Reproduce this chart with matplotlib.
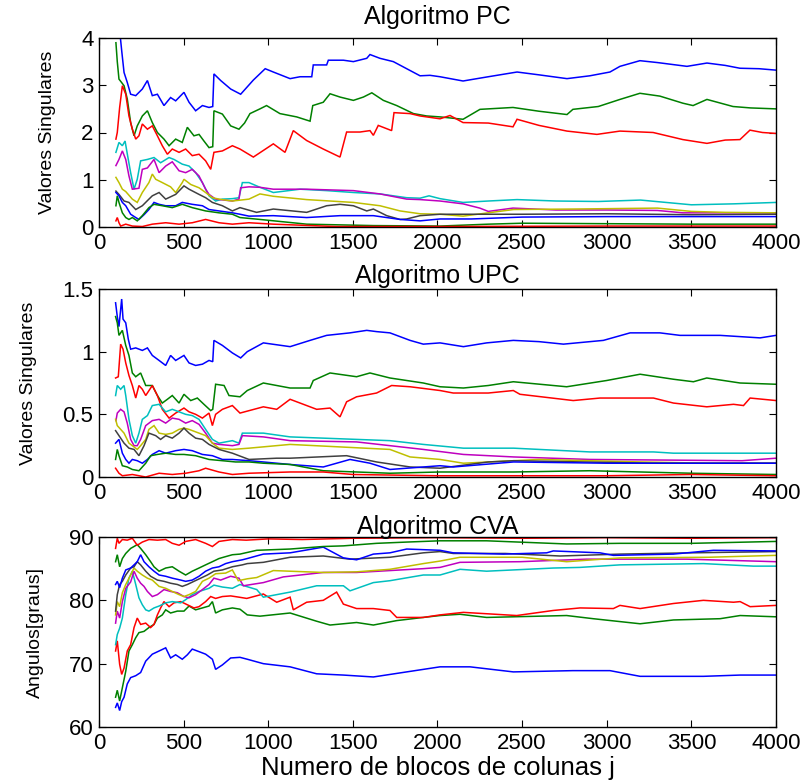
import matplotlib
matplotlib.use("Agg")
import matplotlib.pyplot as plt

# ---------------- data (j, value) ----------------
PC_BLUE1 = [(100,4.2),(118,4.3),(135,3.7),(148,3.27),(167,3.06),(187,2.81),(217,2.78),(256,2.92),(286,3.10),(315,2.78),(345,2.81),(384,2.57),(423,2.74),(453,2.67),(502,2.85),(532,2.64),(571,2.46),(611,2.57),(650,2.53),(672,2.55),(679,3.24),(719,3.10),(778,2.92),(837,2.81),(912,3.11),(982,3.35),(1030,3.28),(1129,3.14),(1188,3.18),(1257,3.18),(1266,3.43),(1345,3.43),(1355,3.53),(1444,3.53),(1503,3.50),(1582,3.57),(1601,3.65),(1660,3.57),(1739,3.50),(1818,3.35),(1897,3.20),(1956,3.21),(2015,3.18),(2151,3.09),(2250,3.15),(2300,3.18),(2470,3.28),(2600,3.22),(2765,3.14),(2900,3.20),(3019,3.28),(3078,3.40),(3196,3.52),(3300,3.48),(3474,3.40),(3592,3.47),(3700,3.42),(3787,3.36),(3900,3.35),(4000,3.32)]
PC_GREEN1 = [(100,3.9),(108,3.5),(118,3.13),(148,2.99),(167,2.71),(187,2.21),(207,1.93),(226,2.14),(256,2.35),(286,2.46),(315,2.21),(345,2.0),(384,1.86),(414,1.72),(453,1.86),(492,1.79),(522,2.11),(561,1.93),(591,1.96),(620,1.82),(650,1.68),(672,1.70),(679,2.46),(729,2.39),(778,2.14),(827,2.07),(860,2.20),(892,2.40),(951,2.50),(990,2.57),(1069,2.40),(1168,2.33),(1247,2.24),(1263,2.57),(1325,2.64),(1365,2.82),(1424,2.75),(1503,2.68),(1562,2.75),(1612,2.84),(1680,2.68),(1759,2.57),(1858,2.40),(1936,2.35),(2015,2.33),(2151,2.28),(2251,2.49),(2446,2.53),(2600,2.45),(2765,2.38),(2800,2.49),(2950,2.55),(3078,2.70),(3196,2.83),(3314,2.77),(3450,2.62),(3510,2.57),(3592,2.70),(3746,2.55),(3850,2.52),(4000,2.50)]
PC_RED1 = [(100,1.86),(108,2.0),(122,2.53),(138,2.99),(158,2.81),(177,2.35),(197,2.07),(217,1.86),(236,1.93),(256,2.18),(286,2.07),(315,2.14),(345,1.93),(374,1.72),(404,1.54),(433,1.65),(473,1.58),(512,1.65),(551,1.51),(591,1.54),(630,1.40),(660,1.22),(679,1.58),(729,1.61),(788,1.72),(833,1.65),(912,1.48),(971,1.62),(1030,1.76),(1099,1.58),(1148,2.04),(1227,1.83),(1325,1.65),(1424,1.48),(1463,2.01),(1542,2.01),(1601,2.04),(1621,1.94),(1650,2.15),(1729,2.04),(1743,2.42),(1838,2.40),(1897,2.35),(2015,2.29),(2074,2.36),(2151,2.21),(2300,2.20),(2446,2.12),(2470,2.28),(2600,2.15),(2765,2.03),(2942,1.96),(3078,2.03),(3274,2.00),(3450,1.85),(3592,1.77),(3700,1.84),(3787,1.85),(3846,2.05),(3920,2.00),(4000,1.98)]
PC_CYAN = [(100,1.58),(118,1.79),(138,1.72),(154,1.82),(167,1.55),(187,1.15),(207,0.80),(226,1.01),(246,1.40),(286,1.43),(325,1.47),(364,1.36),(414,1.47),(443,1.43),(492,1.33),(532,1.29),(571,1.15),(611,0.94),(650,0.66),(689,0.55),(729,0.59),(788,0.60),(827,0.62),(847,0.94),(886,0.94),(951,0.84),(1030,0.73),(1188,0.80),(1345,0.77),(1503,0.73),(1660,0.70),(1818,0.62),(1897,0.61),(1950,0.66),(2015,0.60),(2151,0.52),(2300,0.55),(2470,0.58),(2700,0.55),(2950,0.54),(3200,0.57),(3350,0.52),(3500,0.47),(3750,0.49),(4000,0.52)]
PC_MAGENTA = [(100,1.30),(118,1.43),(138,1.61),(158,1.43),(177,1.08),(197,0.80),(236,0.82),(256,1.22),(286,1.25),(325,1.43),(355,1.15),(394,1.29),(433,1.38),(473,1.19),(512,1.15),(551,1.22),(591,1.08),(630,0.80),(650,0.69),(689,0.59),(788,0.55),(827,0.59),(837,0.83),(886,0.85),(951,0.84),(1030,0.80),(1227,0.80),(1503,0.77),(1660,0.70),(1818,0.59),(1897,0.58),(2015,0.55),(2151,0.49),(2250,0.40),(2300,0.33),(2446,0.40),(2700,0.36),(3000,0.36),(3300,0.35),(3450,0.30),(4000,0.30)]
PC_YELLOW = [(100,1.05),(118,0.94),(138,0.80),(158,0.75),(197,0.59),(226,0.52),(256,0.73),(295,0.94),(315,1.12),(335,1.01),(374,0.94),(423,0.85),(453,0.73),(492,0.94),(502,1.01),(542,0.90),(591,0.83),(630,0.73),(670,0.62),(709,0.59),(788,0.55),(886,0.59),(951,0.70),(1030,0.65),(1227,0.58),(1503,0.52),(1660,0.45),(1779,0.34),(1897,0.28),(2015,0.27),(2151,0.23),(2300,0.30),(2450,0.37),(2800,0.38),(3300,0.40),(3500,0.33),(3700,0.31),(4000,0.30)]
PC_BLACK = [(100,0.76),(118,0.69),(148,0.55),(177,0.52),(217,0.37),(256,0.45),(295,0.59),(315,0.66),(355,0.73),(394,0.59),(453,0.69),(502,0.87),(532,0.80),(591,0.69),(630,0.62),(670,0.52),(729,0.45),(788,0.34),(833,0.41),(931,0.31),(1030,0.38),(1227,0.31),(1345,0.45),(1424,0.48),(1503,0.45),(1582,0.34),(1621,0.38),(1700,0.24),(1779,0.16),(1818,0.17),(1897,0.24),(2015,0.27),(2500,0.27),(3000,0.28),(3500,0.26),(4000,0.27)]
PC_BLUE2 = [(100,0.73),(118,0.66),(138,0.52),(158,0.45),(187,0.27),(217,0.20),(236,0.16),(266,0.26),(295,0.37),(325,0.52),(355,0.48),(394,0.45),(453,0.45),(492,0.52),(551,0.48),(611,0.45),(650,0.37),(709,0.34),(788,0.30),(833,0.27),(886,0.23),(1030,0.24),(1227,0.20),(1424,0.24),(1621,0.24),(1779,0.16),(1897,0.13),(2015,0.17),(2200,0.17),(2500,0.21),(3000,0.22),(4000,0.22)]
PC_GREEN2 = [(100,0.45),(108,0.66),(118,0.52),(138,0.30),(158,0.20),(177,0.16),(197,0.20),(226,0.13),(256,0.24),(295,0.41),(325,0.48),(374,0.45),(433,0.41),(492,0.48),(551,0.41),(630,0.34),(709,0.30),(788,0.27),(833,0.20),(951,0.16),(1227,0.06),(1621,0.03),(2015,0.02),(2300,0.06),(2500,0.08),(3000,0.07),(3500,0.06),(4000,0.06)]
PC_RED2 = [(100,0.13),(108,0.20),(118,0.09),(128,0.02),(158,0.06),(197,0.02),(256,0.01),(315,0.06),(394,0.09),(473,0.06),(551,0.09),(630,0.16),(709,0.09),(788,0.06),(886,0.09),(1030,0.06),(1400,0.01),(2000,0.01),(3000,0.02),(4000,0.02)]

UPC_BLUE1 = [(98,1.39),(108,1.28),(118,1.20),(134,1.42),(142,1.26),(158,1.23),(173,1.10),(187,1.02),(217,1.03),(256,1.01),(286,1.03),(315,0.97),(355,0.93),(394,0.89),(423,0.97),(453,0.93),(502,0.97),(532,0.91),(571,0.89),(611,0.90),(650,0.93),(672,0.92),(679,1.09),(729,1.05),(788,0.99),(837,0.95),(876,1.00),(971,1.07),(1129,1.04),(1247,1.09),(1345,1.13),(1483,1.15),(1582,1.17),(1640,1.16),(1719,1.15),(1838,1.09),(1916,1.06),(2015,1.07),(2153,1.04),(2290,1.07),(2448,1.09),(2600,1.08),(2744,1.06),(2980,1.09),(3138,1.15),(3314,1.15),(3433,1.13),(3670,1.13),(3906,1.11),(4000,1.13)]
UPC_GREEN1 = [(98,1.28),(108,1.23),(118,1.13),(138,1.17),(158,1.05),(177,0.97),(197,0.83),(217,0.80),(246,0.83),(276,0.73),(315,0.73),(345,0.65),(374,0.59),(404,0.62),(433,0.65),(473,0.59),(502,0.66),(542,0.61),(581,0.63),(620,0.58),(660,0.53),(672,0.54),(689,0.74),(739,0.73),(768,0.65),(833,0.64),(876,0.69),(971,0.75),(1129,0.71),(1247,0.71),(1266,0.77),(1365,0.83),(1522,0.80),(1601,0.83),(1719,0.79),(1916,0.75),(2015,0.72),(2153,0.71),(2300,0.73),(2448,0.76),(2763,0.72),(3000,0.77),(3197,0.82),(3394,0.78),(3512,0.76),(3591,0.79),(3788,0.75),(4000,0.74)]
UPC_RED1 = [(98,0.79),(114,0.80),(128,1.06),(142,1.02),(158,0.91),(177,0.81),(197,0.73),(217,0.63),(236,0.73),(256,0.70),(276,0.65),(315,0.73),(345,0.65),(374,0.54),(414,0.47),(453,0.51),(502,0.55),(532,0.52),(571,0.50),(611,0.47),(650,0.51),(670,0.41),(689,0.50),(729,0.54),(788,0.57),(833,0.51),(971,0.56),(1050,0.54),(1129,0.62),(1188,0.59),(1286,0.54),(1365,0.55),(1424,0.48),(1463,0.60),(1522,0.64),(1640,0.67),(1729,0.73),(1838,0.72),(2015,0.69),(2093,0.67),(2300,0.67),(2448,0.69),(2487,0.66),(2802,0.61),(2960,0.63),(3276,0.63),(3394,0.59),(3591,0.56),(3749,0.58),(3808,0.57),(3847,0.63),(4000,0.61)]
UPC_CYAN = [(98,0.65),(108,0.73),(128,0.70),(148,0.73),(158,0.65),(177,0.46),(197,0.33),(217,0.27),(236,0.35),(256,0.46),(286,0.49),(315,0.57),(355,0.58),(394,0.52),(433,0.54),(473,0.52),(512,0.50),(551,0.49),(591,0.46),(630,0.38),(670,0.30),(709,0.27),(788,0.29),(827,0.27),(847,0.35),(971,0.35),(1129,0.32),(1522,0.30),(1719,0.29),(1916,0.26),(2153,0.23),(2450,0.23),(2901,0.20),(3276,0.20),(3394,0.19),(4000,0.19)]
UPC_MAGENTA = [(100,0.45),(108,0.51),(128,0.54),(148,0.52),(167,0.43),(187,0.30),(207,0.25),(226,0.25),(246,0.30),(276,0.41),(315,0.45),(355,0.46),(394,0.43),(433,0.47),(473,0.46),(512,0.43),(551,0.45),(591,0.42),(630,0.35),(670,0.27),(709,0.26),(788,0.25),(827,0.26),(847,0.33),(971,0.32),(1129,0.29),(1522,0.28),(1916,0.22),(2153,0.18),(2450,0.16),(2901,0.14),(3800,0.13),(4000,0.15)]
UPC_YELLOW = [(98,0.46),(108,0.41),(128,0.38),(148,0.35),(177,0.27),(197,0.25),(226,0.22),(246,0.25),(276,0.30),(295,0.38),(325,0.41),(355,0.35),(394,0.34),(433,0.35),(473,0.38),(502,0.39),(532,0.38),(591,0.35),(630,0.33),(670,0.27),(709,0.23),(788,0.22),(886,0.23),(1129,0.26),(1719,0.22),(1838,0.16),(2015,0.14),(2153,0.11),(2600,0.14),(3200,0.12),(3600,0.11),(4000,0.11)]
UPC_BLACK = [(98,0.37),(118,0.33),(148,0.27),(177,0.23),(207,0.22),(236,0.17),(266,0.25),(295,0.35),(335,0.33),(364,0.30),(394,0.33),(433,0.31),(473,0.35),(502,0.39),(532,0.35),(571,0.31),(611,0.30),(650,0.26),(709,0.22),(788,0.19),(886,0.14),(1050,0.15),(1129,0.15),(1463,0.17),(1640,0.12),(1838,0.08),(2015,0.07),(2300,0.12),(2450,0.13),(3276,0.11),(4000,0.11)]
UPC_BLUE2 = [(98,0.27),(118,0.30),(138,0.19),(158,0.14),(177,0.11),(197,0.14),(226,0.13),(256,0.11),(286,0.14),(315,0.18),(355,0.21),(394,0.19),(453,0.21),(502,0.22),(551,0.21),(611,0.18),(670,0.17),(729,0.14),(788,0.14),(886,0.13),(971,0.12),(1129,0.10),(1325,0.08),(1483,0.14),(1601,0.11),(1719,0.06),(2015,0.09),(2093,0.08),(2450,0.12),(3000,0.11),(4000,0.11)]
UPC_GREEN2 = [(98,0.14),(108,0.22),(118,0.17),(138,0.09),(167,0.08),(197,0.06),(236,0.05),(276,0.11),(305,0.17),(345,0.18),(394,0.19),(453,0.18),(502,0.18),(571,0.17),(650,0.14),(729,0.13),(807,0.12),(886,0.12),(971,0.11),(1129,0.10),(1325,0.05),(1719,0.03),(2015,0.04),(2450,0.04),(2900,0.05),(3500,0.03),(4000,0.02)]
UPC_RED2 = [(98,0.07),(118,0.03),(138,0.01),(197,0.02),(276,0.00),(355,0.03),(433,0.02),(512,0.03),(591,0.05),(630,0.07),(709,0.04),(788,0.02),(886,0.03),(1129,0.04),(1325,0.04),(1500,0.02),(2000,0.01),(3000,0.01),(3500,0.02),(4000,0.01)]

CVA_BLUE1 = [(98,63.1),(108,63.8),(122,62.6),(134,64.0),(148,64.7),(167,66.8),(187,67.8),(217,68.1),(246,68.6),(276,70.4),(315,71.5),(355,72.0),(394,72.5),(423,70.9),(453,71.4),(492,70.7),(522,71.4),(551,72.3),(591,71.9),(630,71.5),(670,70.7),(689,69.1),(729,69.8),(778,70.9),(833,71.0),(876,70.7),(971,70.0),(1129,69.5),(1286,68.4),(1444,68.2),(1621,67.9),(1818,68.7),(2015,69.5),(2192,69.5),(2448,68.7),(2800,68.9),(3019,68.9),(3197,68.0),(3571,68.0),(3788,68.2),(4000,68.2)]
CVA_GREEN1 = [(98,64.7),(108,65.8),(122,64.1),(138,66.2),(158,68.8),(177,72.0),(197,73.0),(217,74.1),(236,74.9),(266,75.1),(295,75.7),(325,76.2),(345,77.2),(374,77.7),(394,78.5),(423,78.0),(463,78.3),(502,78.3),(532,79.1),(571,78.5),(611,78.8),(650,79.1),(670,79.8),(689,78.0),(729,78.5),(788,78.8),(833,78.6),(876,77.7),(951,77.5),(1129,78.0),(1286,76.7),(1365,76.1),(1522,76.5),(1621,76.1),(1759,76.8),(1916,77.3),(2015,77.6),(2133,77.8),(2290,77.3),(2763,77.6),(2920,77.1),(3197,76.3),(3394,76.9),(3670,77.1),(3788,77.6),(4000,77.4)]
CVA_RED1 = [(98,72.0),(108,73.6),(122,69.9),(134,68.3),(148,69.3),(167,72.0),(187,73.0),(207,75.7),(226,77.2),(246,76.2),(276,76.4),(305,75.7),(325,76.2),(345,77.7),(364,78.8),(384,79.8),(414,79.0),(443,79.6),(483,79.8),(522,79.3),(561,78.8),(591,79.0),(630,79.8),(660,80.6),(689,80.3),(729,80.6),(778,80.7),(827,80.5),(873,80.3),(971,81.0),(1050,79.7),(1129,80.5),(1148,78.5),(1227,79.7),(1325,80.0),(1404,81.3),(1444,79.4),(1522,78.7),(1621,78.7),(1719,78.4),(1759,77.3),(1916,77.3),(2015,77.7),(2153,78.1),(2468,77.6),(2684,78.4),(2842,78.8),(3039,78.7),(3078,79.2),(3197,78.7),(3394,79.5),(3571,80.0),(3749,79.7),(3788,79.8),(3847,79.0),(4000,79.2)]
CVA_CYAN = [(98,73.0),(108,74.6),(122,75.6),(138,77.2),(158,80.9),(177,83.5),(197,84.6),(217,82.5),(236,80.4),(256,79.3),(276,78.5),(295,78.3),(325,78.8),(355,79.1),(394,79.6),(433,79.8),(483,79.6),(512,80.1),(551,80.9),(591,81.4),(650,81.9),(679,82.4),(729,82.1),(788,81.9),(833,82.5),(932,81.7),(971,80.5),(1129,81.3),(1286,82.3),(1444,82.3),(1483,81.5),(1621,82.8),(1719,83.1),(1916,84.0),(2015,84.0),(2133,84.9),(2290,84.6),(2684,85.1),(2842,85.2),(3078,85.6),(3571,85.8),(3867,85.4),(4000,85.4)]
CVA_MAGENTA = [(98,76.4),(108,78.3),(122,77.2),(138,79.8),(158,81.9),(187,82.9),(207,84.6),(226,83.5),(246,82.7),(266,82.2),(286,81.4),(315,80.6),(345,80.9),(384,81.7),(423,81.4),(463,81.2),(502,80.6),(532,80.4),(571,80.9),(611,81.7),(650,82.5),(679,83.5),(719,83.2),(778,83.8),(827,83.5),(853,82.3),(876,82.4),(971,82.8),(1089,83.7),(1325,84.4),(1522,84.4),(1719,84.7),(1916,85.0),(2015,85.2),(2133,86.0),(2487,86.1),(2881,86.5),(3473,86.5),(4000,86.1)]
CVA_YELLOW = [(98,77.7),(108,79.8),(122,79.0),(138,81.2),(158,82.5),(187,84.0),(207,85.1),(226,84.6),(256,84.0),(286,83.5),(315,83.2),(355,82.2),(394,81.9),(433,81.4),(473,80.9),(502,80.6),(532,80.9),(571,81.4),(611,83.0),(650,83.5),(689,84.2),(748,84.3),(788,84.8),(823,83.1),(876,83.4),(932,83.6),(1030,84.7),(1325,84.4),(1522,84.5),(1719,84.9),(1916,85.8),(2015,86.2),(2133,86.8),(2500,86.8),(2763,86.1),(3078,86.7),(3600,86.8),(4000,87.1)]
CVA_BLACK = [(98,78.3),(108,80.9),(122,82.5),(138,83.0),(158,84.0),(187,85.1),(207,85.3),(226,86.1),(246,85.6),(276,84.6),(305,83.8),(345,83.2),(384,83.0),(423,82.7),(463,82.5),(492,82.2),(522,82.5),(561,83.0),(601,83.5),(640,84.0),(679,84.6),(729,84.8),(788,85.3),(847,85.6),(876,85.8),(971,86.0),(1129,86.8),(1325,87.0),(1483,86.5),(1719,86.8),(1916,87.5),(2015,87.7),(2093,87.4),(2400,87.4),(2724,87.0),(3078,87.3),(3500,87.5),(4000,87.7)]
CVA_BLUE2 = [(98,82.5),(108,83.0),(122,82.0),(138,83.5),(158,84.8),(187,85.1),(207,85.6),(226,86.1),(246,87.2),(266,86.1),(295,85.3),(325,84.6),(355,84.0),(394,83.8),(433,83.5),(483,83.2),(512,83.0),(551,83.2),(591,83.8),(630,84.6),(670,85.1),(709,85.3),(748,85.8),(788,86.1),(847,86.4),(876,86.6),(971,87.3),(1129,87.5),(1325,88.4),(1444,86.7),(1522,86.4),(1621,87.3),(1719,87.5),(1818,88.1),(2015,87.9),(2093,87.5),(2389,87.3),(2645,87.5),(2684,87.8),(2960,87.5),(3039,87.1),(3394,87.3),(3630,87.9),(4000,87.8)]
CVA_GREEN2 = [(98,86.1),(108,87.2),(122,85.3),(138,86.6),(158,87.4),(187,88.2),(207,88.5),(226,88.8),(246,88.2),(276,87.2),(305,86.1),(325,85.3),(355,84.6),(394,85.1),(433,85.3),(473,84.6),(512,84.0),(551,84.6),(591,85.1),(630,85.6),(670,86.1),(709,86.6),(748,86.9),(788,87.2),(833,87.3),(932,87.9),(1129,88.1),(1325,88.5),(1444,88.6),(1640,89.0),(1818,89.2),(2015,89.4),(2290,89.4),(2763,88.9),(3078,89.0),(3500,89.0),(4000,89.3)]
CVA_RED2 = [(98,88.2),(108,89.8),(118,89.0),(138,89.6),(167,89.5),(197,89.8),(226,88.7),(256,89.2),(295,89.6),(345,89.5),(394,89.6),(433,89.0),(473,88.7),(512,89.3),(571,89.6),(630,89.0),(670,88.5),(709,89.3),(788,89.6),(870,89.5),(1000,89.7),(1200,89.6),(1500,89.8),(2000,89.9),(2500,89.8),(3000,89.9),(3500,89.8),(4000,89.9)]

TITLES = ["Algoritmo PC", "Algoritmo UPC", "Algoritmo CVA"]
YLABELS = ["Valores Singulares", "Valores Singulares", "Angulos[graus]"]
XLABEL = "Numero de blocos de colunas j"
XTICKS = [0, 500, 1000, 1500, 2000, 2500, 3000, 3500, 4000]
YTICKS = [[0, 1, 2, 3, 4], [0, 0.5, 1, 1.5], [60, 70, 80, 90]]
YLIMS = [(0, 4), (0, 1.5), (60, 90)]

# MATLAB classic colour order
COLORS = [(0, 0, 1), (0, 0.5, 0), (1, 0, 0), (0, 0.75, 0.75),
          (0.75, 0, 0.75), (0.75, 0.75, 0), (0.25, 0.25, 0.25)]

PANELS = [
    [PC_BLUE1, PC_GREEN1, PC_RED1, PC_CYAN, PC_MAGENTA, PC_YELLOW, PC_BLACK, PC_BLUE2, PC_GREEN2, PC_RED2],
    [UPC_BLUE1, UPC_GREEN1, UPC_RED1, UPC_CYAN, UPC_MAGENTA, UPC_YELLOW, UPC_BLACK, UPC_BLUE2, UPC_GREEN2, UPC_RED2],
    [CVA_BLUE1, CVA_GREEN1, CVA_RED1, CVA_CYAN, CVA_MAGENTA, CVA_YELLOW, CVA_BLACK, CVA_BLUE2, CVA_GREEN2, CVA_RED2],
]

plt.rcParams['font.family'] = ['Liberation Sans', 'DejaVu Sans']

W, H = 804, 780
fig = plt.figure(figsize=(W / 100, H / 100), dpi=100)

boxes = [(99, 38, 227), (99, 289, 477), (99, 537, 727)]
title_pads = [10, 4, 2]
for i, (left, top, bottom) in enumerate(boxes):
    ax = fig.add_axes([left / W, 1 - bottom / H, (776 - left) / W, (bottom - top) / H])
    for k, series in enumerate(PANELS[i]):
        xs, ys = zip(*series)
        ax.plot(xs, ys, color=COLORS[k % len(COLORS)], lw=1.1, solid_joinstyle='miter')
    ax.set_xlim(0, 4000)
    ax.set_ylim(*YLIMS[i])
    ax.set_xticks(XTICKS)
    ax.set_yticks(YTICKS[i])
    ax.set_yticklabels([("%g" % v) for v in YTICKS[i]])
    ax.tick_params(direction='in', top=True, right=True, length=5, width=0.8,
                   labelsize=16, pad=4)
    for sp in ax.spines.values():
        sp.set_linewidth(1.0)
    ax.set_title(TITLES[i], fontsize=18, pad=title_pads[i])
    ax.set_ylabel(YLABELS[i], fontsize=14, labelpad=18)
    if i == 2:
        ax.set_xlabel(XLABEL, fontsize=18.5, labelpad=2)

fig.savefig("out.png", dpi=100, facecolor='white')
